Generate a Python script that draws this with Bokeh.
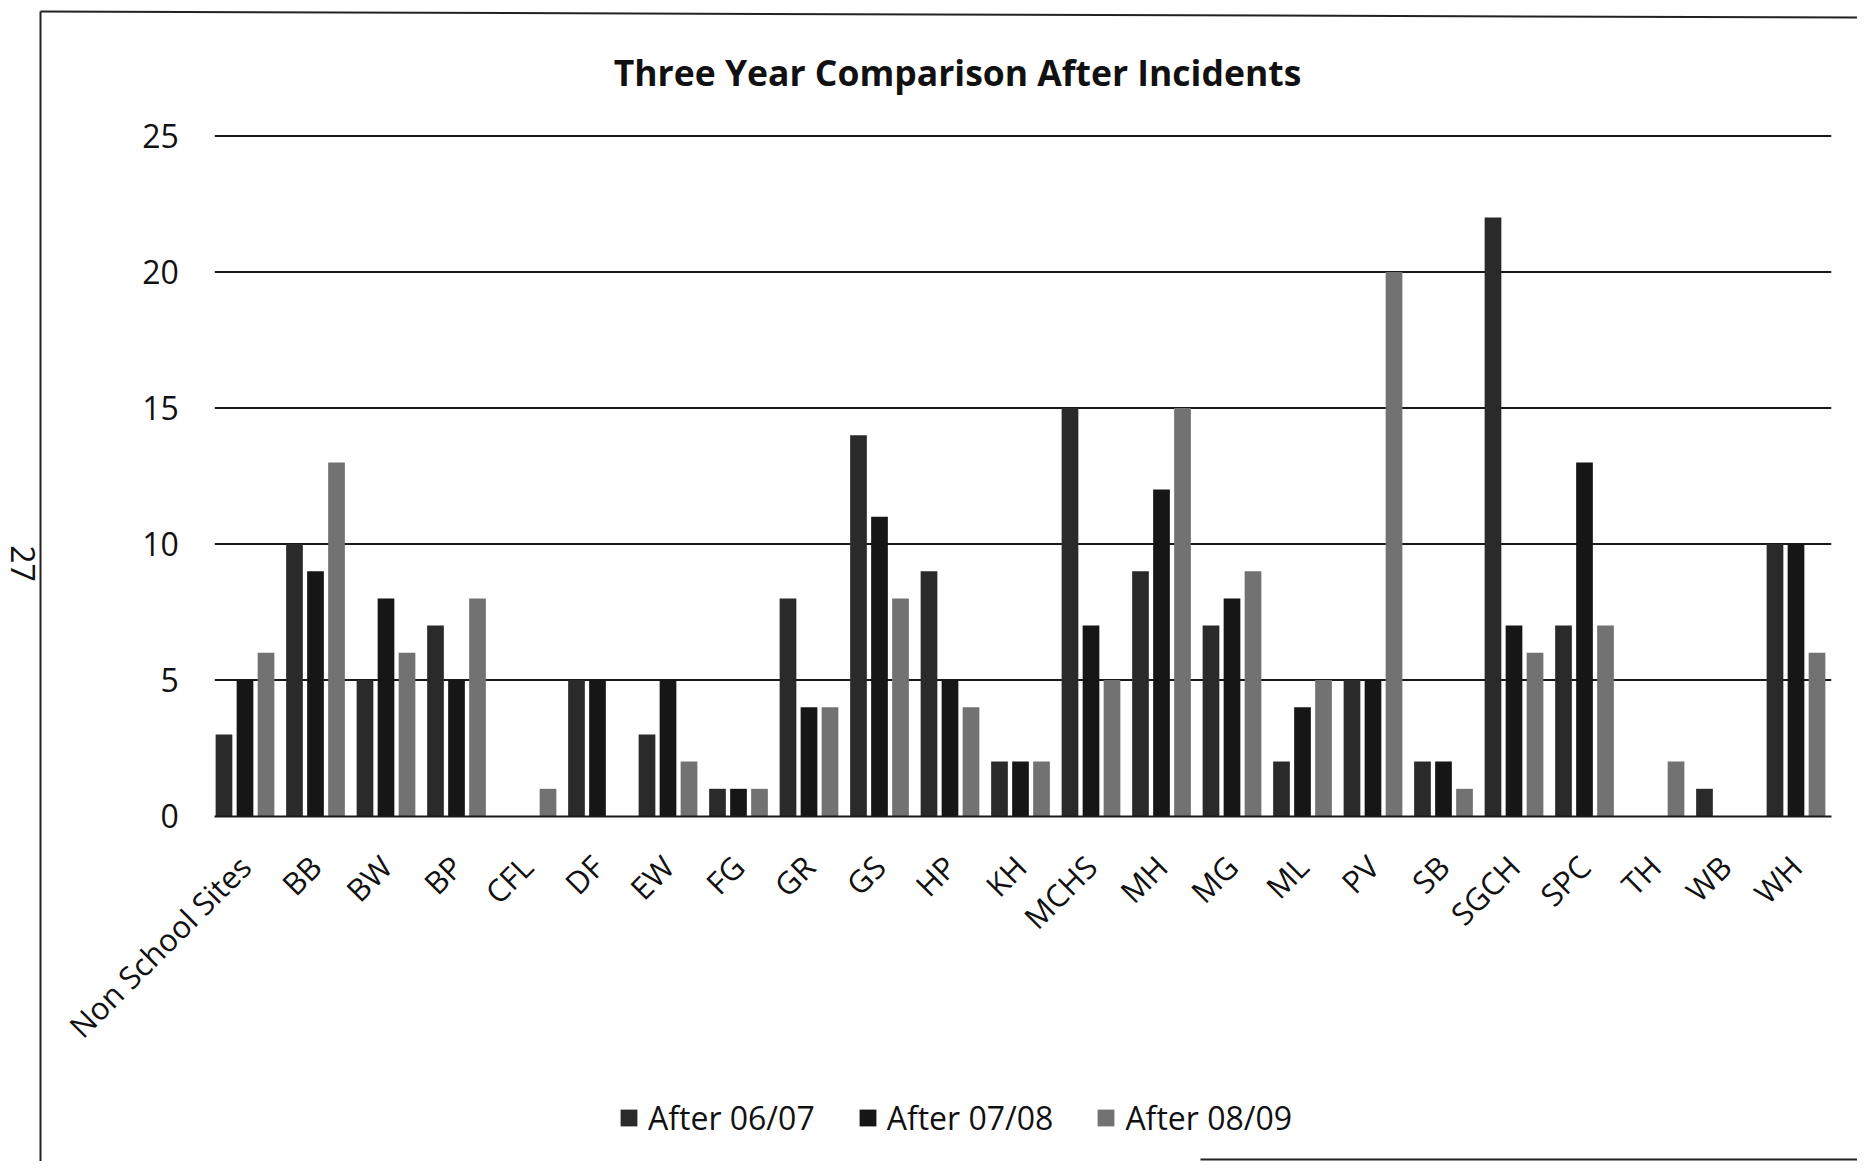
from bokeh.plotting import figure
from bokeh.models import (Range1d, Label, Legend, LegendItem, FixedTicker,
                          Arrow, ColumnDataSource)
from bokeh.transform import dodge
from bokeh.embed import file_html
from bokeh.resources import INLINE
import math

categories = ["Non School Sites", "BB", "BW", "BP", "CFL", "DF", "EW", "FG", "GR",
              "GS", "HP", "KH", "MCHS", "MH", "MG", "ML", "PV", "SB", "SGCH",
              "SPC", "TH", "WB", "WH"]
after_0607 = [3, 10, 5, 7, 0, 5, 3, 1, 8, 14, 9, 2, 15, 9, 7, 2, 5, 2, 22, 7, 0, 1, 10]
after_0708 = [5, 9, 8, 5, 0, 5, 5, 1, 4, 11, 5, 2, 7, 12, 8, 4, 5, 2, 7, 13, 0, 0, 10]
after_0809 = [6, 13, 6, 8, 1, 0, 2, 1, 4, 8, 4, 2, 5, 15, 9, 5, 20, 1, 6, 7, 2, 0, 6]
series_names = ["After 06/07", "After 07/08", "After 08/09"]
y_ticks = [0, 5, 10, 15, 20, 25]

FONT = "Open Sans"
W, H = 1857, 1161

# frame covers the whole canvas; the chart area sits inside it
X0_PX, CAT_PX = 244.5, 70.5          # first category centre, category pitch
Y0_PX, UNIT_PX = 815.5, 27.2         # baseline, pixels per unit
x_range = Range1d(-X0_PX / CAT_PX, (W - X0_PX) / CAT_PX)
y_range = Range1d(-(H - Y0_PX) / UNIT_PX, Y0_PX / UNIT_PX)

p = figure(x_range=x_range, y_range=y_range, width=W, height=H,
           output_backend="svg", toolbar_location=None,
           min_border_left=0, min_border_right=0, min_border_top=0,
           min_border_bottom=0)
p.outline_line_color = None
p.background_fill_color = "white"
p.border_fill_color = "white"
p.xgrid.visible = False
p.ygrid.visible = False

n = len(categories)
positions = list(range(n))
src = ColumnDataSource(dict(x=positions, a=after_0607, b=after_0708, c=after_0809))

# horizontal grid lines across the chart area only
left_edge, right_edge = -0.5 + 5 / CAT_PX, n - 0.5
grid_y = [t for t in y_ticks if t > 0]
p.segment(x0=[left_edge] * len(grid_y), x1=[right_edge] * len(grid_y),
          y0=grid_y, y1=grid_y, line_color="#1a1a1a", line_width=2)

colors = ["#2a2a2a", "#161616", "#727272"]
offsets = [-0.298, 0.0, 0.298]
renderers = []
for key, off, col in zip(["a", "b", "c"], offsets, colors):
    r = p.vbar(x=dodge("x", off), top=key, width=0.237, source=src,
               fill_color=col, line_color=None)
    renderers.append(r)

# y axis, drawn at the left edge of the chart area
ya = p.yaxis[0]
ya.fixed_location = -0.5
ya.bounds = (0, 25)
ya.ticker = FixedTicker(ticks=y_ticks)
ya.axis_line_color = None
ya.major_tick_line_color = None
ya.minor_tick_line_color = None
ya.major_tick_out = 0
ya.major_tick_in = 0
ya.major_label_standoff = 31
ya.major_label_text_font = FONT
ya.major_label_text_font_size = "32px"
ya.major_label_text_color = "#111111"

# x axis, drawn at zero
xa = p.xaxis[0]
xa.fixed_location = 0
xa.bounds = (left_edge, right_edge)
xa.ticker = FixedTicker(ticks=positions)
xa.major_label_overrides = {i: c for i, c in zip(positions, categories)}
xa.axis_line_color = "#1a1a1a"
xa.axis_line_width = 2
xa.major_tick_line_color = None
xa.minor_tick_line_color = None
xa.major_tick_out = 0
xa.major_tick_in = 0
xa.major_label_orientation = math.pi / 4
xa.major_label_standoff = 45
xa.major_label_text_font = FONT
xa.major_label_text_font_size = "31px"
xa.major_label_text_color = "#111111"

# title
p.add_layout(Label(x=957, y=H - 71, x_units="screen", y_units="screen",
                   text="Three Year Comparison After Incidents",
                   text_align="center", text_baseline="middle",
                   text_font=FONT, text_font_style="bold",
                   text_font_size="35.5px", text_color="#111111"))

# page number of the scanned page
p.add_layout(Label(x=22, y=H - 563, x_units="screen", y_units="screen",
                   text="27", angle=-math.pi / 2,
                   text_align="center", text_baseline="middle",
                   text_font=FONT, text_font_size="32px", text_color="#111111"))

# scanned page frame
for (xs, ys, xe, ye) in [(40, H - 11, 40, 0),
                         (40, H - 11, W, H - 17),
                         (1200, 2, W, 2)]:
    p.add_layout(Arrow(x_start=xs, y_start=ys, x_end=xe, y_end=ye,
                       start_units="screen", end_units="screen",
                       start=None, end=None, line_color="#222222", line_width=2))

legend = Legend(items=[LegendItem(label=nm, renderers=[r])
                       for nm, r in zip(series_names, renderers)],
                orientation="horizontal", location=(618, H - 1118 - 21),
                glyph_width=21, glyph_height=21, label_standoff=9, spacing=42,
                padding=0, margin=0, border_line_color=None,
                background_fill_alpha=0,
                label_text_font=FONT, label_text_font_size="32px",
                label_text_color="#111111")
p.add_layout(legend, "center")

open("out.html", "w").write(file_html(p, INLINE))
